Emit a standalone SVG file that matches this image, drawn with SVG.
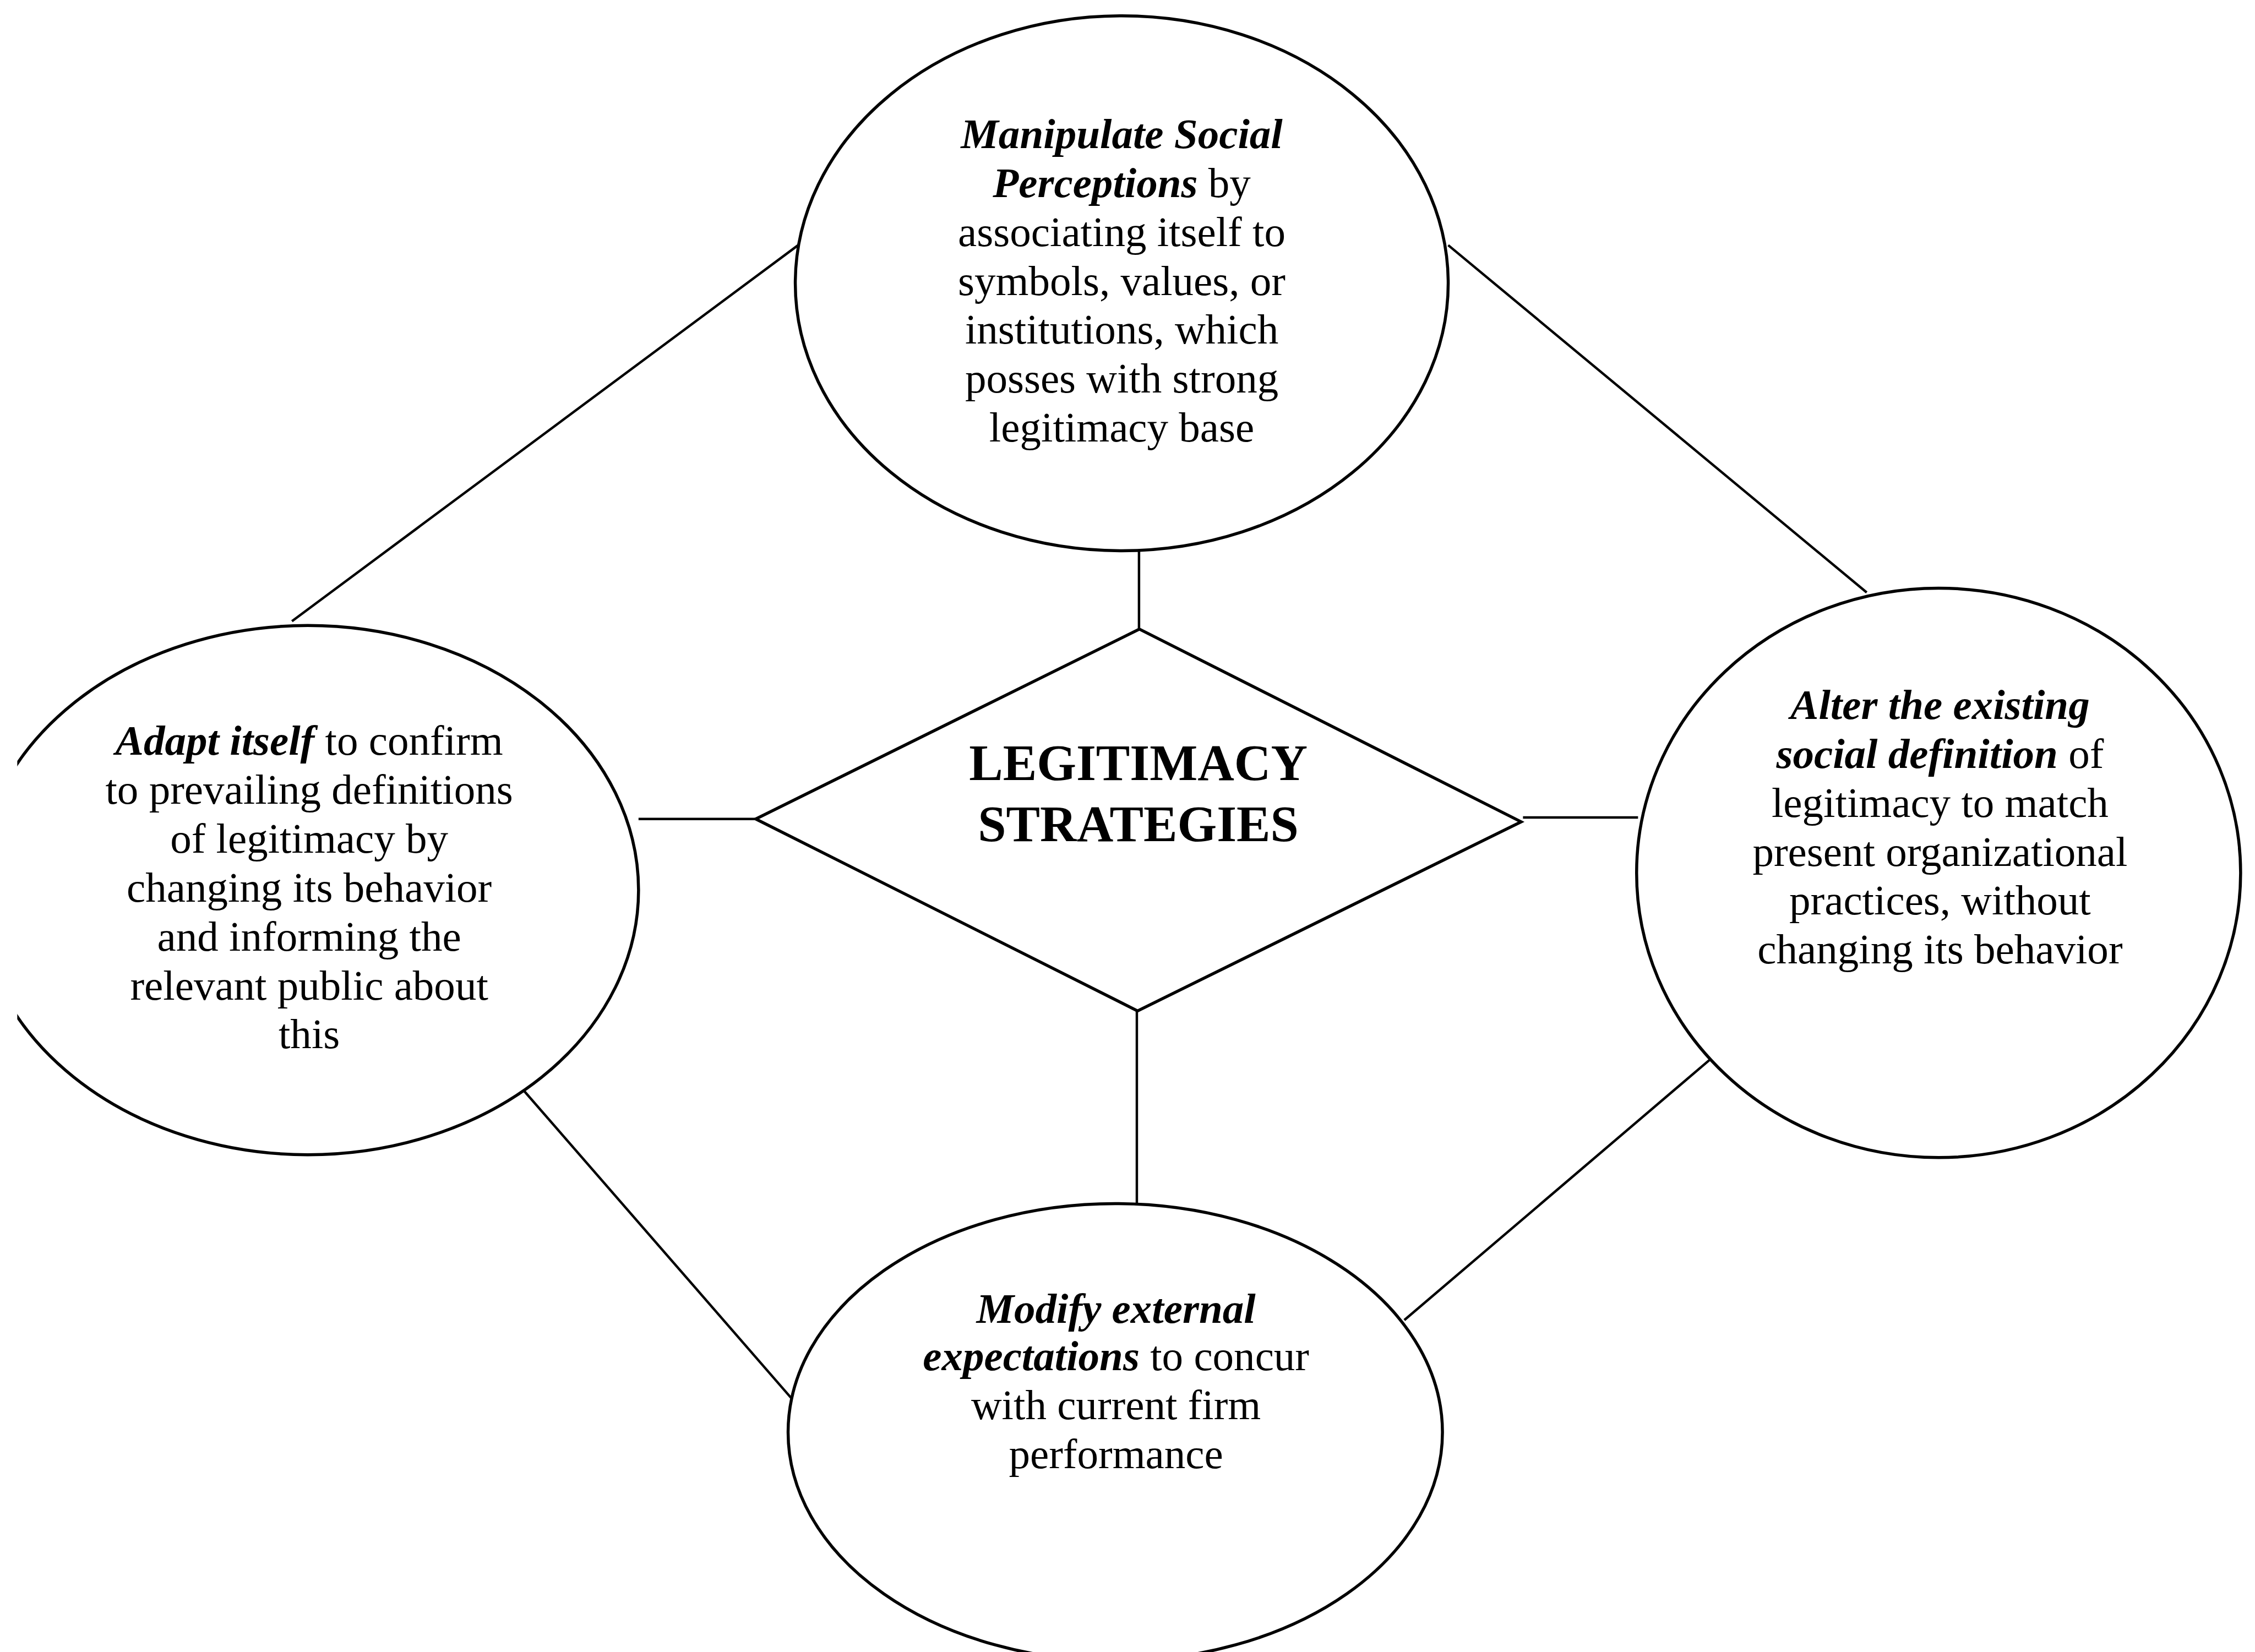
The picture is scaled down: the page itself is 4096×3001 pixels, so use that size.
<svg xmlns="http://www.w3.org/2000/svg" width="4096" height="3001" viewBox="0 0 4096 3001">
  <style>
    .node { fill: #ffffff; stroke: #000000; stroke-width: 2.1; }
    .link { stroke: #000000; stroke-width: 1.7; fill: none; }
    .txt { font-family: "Liberation Serif", "Times New Roman", serif; font-size: 29.5px; fill: #000000; text-anchor: middle; }
    .em { font-weight: bold; font-style: italic; }
    .title { font-family: "Liberation Serif", "Times New Roman", serif; font-size: 35.3px; font-weight: bold; fill: #000000; text-anchor: middle; }
  </style>
  <defs>
    <clipPath id="leftEdge">
      <rect x="12" y="0" width="1600" height="1200"/>
    </clipPath>
  </defs>
  <rect width="4096" height="3001" fill="#ffffff"/>
  <g transform="scale(2.612245)">
    <!-- connectors -->
    <g id="connectors">
      <line class="link" x1="792" y1="383" x2="792" y2="438"/>
      <line class="link" x1="790.5" y1="703" x2="790.5" y2="837"/>
      <line class="link" x1="444" y1="569.5" x2="525.5" y2="569.5"/>
      <line class="link" x1="1059" y1="568.5" x2="1139" y2="568.5"/>
      <line class="link" x1="203" y1="432" x2="555" y2="170.5"/>
      <line class="link" x1="1007" y1="170.5" x2="1298" y2="412"/>
      <line class="link" x1="363" y1="757" x2="550" y2="972"/>
      <line class="link" x1="1190" y1="736" x2="976.5" y2="918"/>
    </g>

    <!-- central diamond -->
    <g id="node-center">
      <polygon class="node" points="792.3,437.5 1057.7,571.5 791,703 525.5,569.5" stroke-width="1.9"/>
      <text class="title" x="791.5" y="542.5">LEGITIMACY</text>
      <text class="title" x="791.5" y="585">STRATEGIES</text>
    </g>

    <!-- top: manipulate social perceptions -->
    <g id="node-manipulate">
      <ellipse class="node" cx="780" cy="197" rx="227" ry="186"/>
      <text class="txt" x="780" y="103"><tspan class="em">Manipulate Social</tspan></text>
      <text class="txt" x="780" y="137"><tspan class="em">Perceptions</tspan> by</text>
      <text class="txt" x="780" y="171">associating itself to</text>
      <text class="txt" x="780" y="205">symbols, values, or</text>
      <text class="txt" x="780" y="239">institutions, which</text>
      <text class="txt" x="780" y="273">posses with strong</text>
      <text class="txt" x="780" y="307">legitimacy base</text>
    </g>

    <!-- left: adapt itself -->
    <g id="node-adapt">
      <ellipse class="node" cx="214" cy="619" rx="230" ry="184" clip-path="url(#leftEdge)" stroke-width="1.9"/>
      <text class="txt" x="215" y="525"><tspan class="em">Adapt itself</tspan> to confirm</text>
      <text class="txt" x="215" y="559">to prevailing definitions</text>
      <text class="txt" x="215" y="593">of legitimacy by</text>
      <text class="txt" x="215" y="627">changing its behavior</text>
      <text class="txt" x="215" y="661">and informing the</text>
      <text class="txt" x="215" y="695">relevant public about</text>
      <text class="txt" x="215" y="729">this</text>
    </g>

    <!-- right: alter the existing social definition -->
    <g id="node-alter">
      <ellipse class="node" cx="1348" cy="607" rx="210" ry="198"/>
      <text class="txt" x="1349" y="500"><tspan class="em">Alter the existing</tspan></text>
      <text class="txt" x="1349" y="534"><tspan class="em">social definition</tspan> of</text>
      <text class="txt" x="1349" y="568">legitimacy to match</text>
      <text class="txt" x="1349" y="602">present organizational</text>
      <text class="txt" x="1349" y="636">practices, without</text>
      <text class="txt" x="1349" y="670">changing its behavior</text>
    </g>

    <!-- bottom: modify external expectations -->
    <g id="node-modify">
      <ellipse class="node" cx="775.5" cy="996" rx="227.5" ry="159"/>
      <text class="txt" x="776" y="920"><tspan class="em">Modify external</tspan></text>
      <text class="txt" x="776" y="953"><tspan class="em">expectations</tspan> to concur</text>
      <text class="txt" x="776" y="987">with current firm</text>
      <text class="txt" x="776" y="1021">performance</text>
    </g>
  </g>
</svg>
